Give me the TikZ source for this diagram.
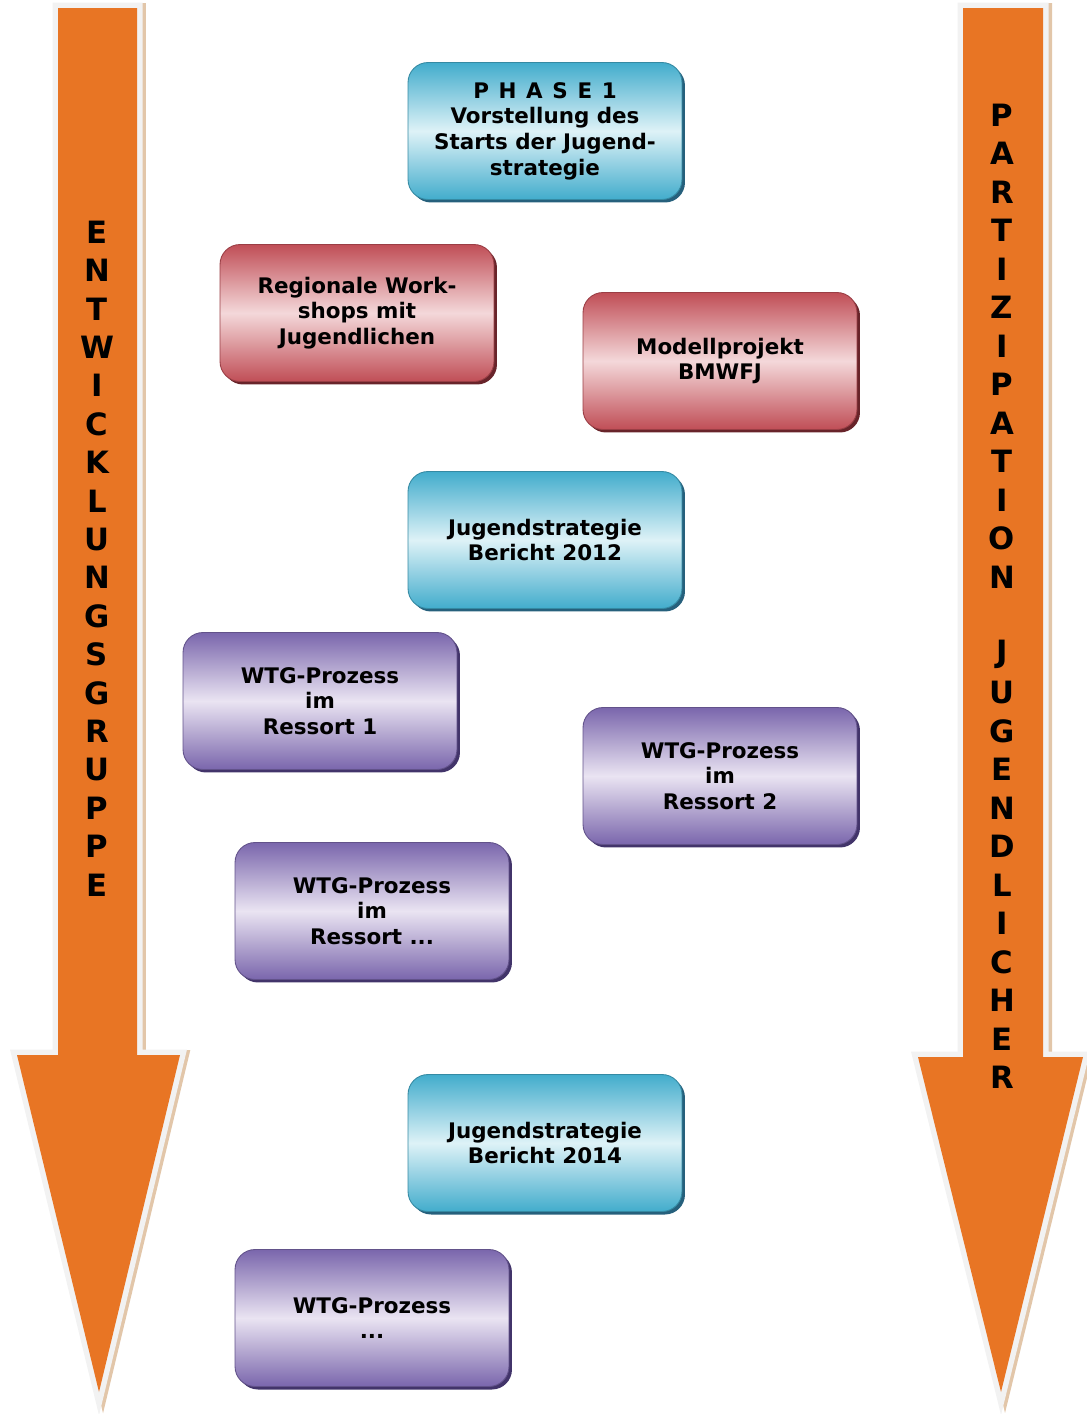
\documentclass[tikz,border=0pt]{standalone}
\usepackage{fontspec}
\setmainfont{DejaVu Sans}
\usetikzlibrary{shadows}
\definecolor{pfeil}{RGB}{232,117,36}
\definecolor{blauA}{RGB}{66,172,204}
\definecolor{blauB}{RGB}{222,242,247}
\definecolor{blauS}{RGB}{38,96,124}
\definecolor{rotA}{RGB}{192,78,86}
\definecolor{rotB}{RGB}{244,216,218}
\definecolor{rotS}{RGB}{104,36,42}
\definecolor{lilaA}{RGB}{122,102,172}
\definecolor{lilaB}{RGB}{234,228,242}
\definecolor{lilaS}{RGB}{66,52,106}
\begin{document}
\begin{tikzpicture}[x=0.02cm,y=-0.02cm,
  kasten/.style={rounded corners=0.4cm,minimum width=5.48cm,minimum height=2.74cm,align=center,
    font=\fontsize{12.2}{14.6}\selectfont\bfseries,line width=0.5pt},
  blau/.style={kasten,top color=blauA,bottom color=blauA,middle color=blauB,draw=blauA!80!black,
    general shadow={fill=blauS,shadow xshift=0.06cm,shadow yshift=-0.06cm}},
  rot/.style={kasten,top color=rotA,bottom color=rotA,middle color=rotB,draw=rotA!80!black,
    general shadow={fill=rotS,shadow xshift=0.06cm,shadow yshift=-0.06cm}},
  lila/.style={kasten,top color=lilaA,bottom color=lilaA,middle color=lilaB,draw=lilaA!80!black,
    general shadow={fill=lilaS,shadow xshift=0.06cm,shadow yshift=-0.06cm}},
  buchst/.style={font=\fontsize{17.5}{17.5}\selectfont\bfseries,inner sep=0pt}]
\useasboundingbox (0,0) rectangle (1086,1414);
% die beiden Pfeile
\foreach \a/\b/\c/\d/\t/\h in {58/137/17/180/99/1055,963/1043/918/1083/1001/1057}{
  \draw[line width=0.2cm,line join=miter,brown!45] ([xshift=0.08cm]\a,8) -- ([xshift=0.08cm]\b,8) -- ([xshift=0.08cm]\b,\h) -- ([xshift=0.08cm]\d,\h) -- ([xshift=0.08cm]\t,1392) -- ([xshift=0.08cm]\c,\h) -- ([xshift=0.08cm]\a,\h) -- cycle;
  \draw[line width=0.22cm,line join=miter,gray!10] (\a,8) -- (\b,8) -- (\b,\h) -- (\d,\h) -- (\t,1392) -- (\c,\h) -- (\a,\h) -- cycle;
  \fill[pfeil] (\a,8) -- (\b,8) -- (\b,\h) -- (\d,\h) -- (\t,1392) -- (\c,\h) -- (\a,\h) -- cycle;}
\foreach \c [count=\i] in {E,N,T,W,I,C,K,L,U,N,G,S,G,R,U,P,P,E}
  \node[buchst] (li\i) at (97,{232+38.4*(\i-1)}) {\c};
\foreach \c [count=\i] in {P,A,R,T,I,Z,I,P,A,T,I,O,N,{},J,U,G,E,N,D,L,I,C,H,E,R}
  \node[buchst] (re\i) at (1002,{115+38.5*(\i-1)}) {\c};
% die Kaesten
\node[blau] (phase) at (545,131) {P\hspace{0.45em}H\hspace{0.45em}A\hspace{0.45em}S\hspace{0.45em}E\hspace{0.45em}1\\Vorstellung des\\Starts der Jugend-\\strategie};
\node[rot] (workshops) at (357,313) {Regionale Work-\\shops mit\\Jugendlichen};
\node[rot] (modell) at (720,361) {Modellprojekt\\BMWFJ};
\node[blau] (bericht12) at (545,540) {Jugendstrategie\\Bericht 2012};
\node[lila] (ressort1) at (320,701) {WTG-Prozess\\im\\Ressort 1};
\node[lila] (ressort2) at (720,776) {WTG-Prozess\\im\\Ressort 2};
\node[lila] (ressortx) at (372,911) {WTG-Prozess\\im\\Ressort ...};
\node[blau] (bericht14) at (545,1143) {Jugendstrategie\\Bericht 2014};
\node[lila] (wtgx) at (372,1318) {WTG-Prozess\\...};
\end{tikzpicture}
\end{document}
